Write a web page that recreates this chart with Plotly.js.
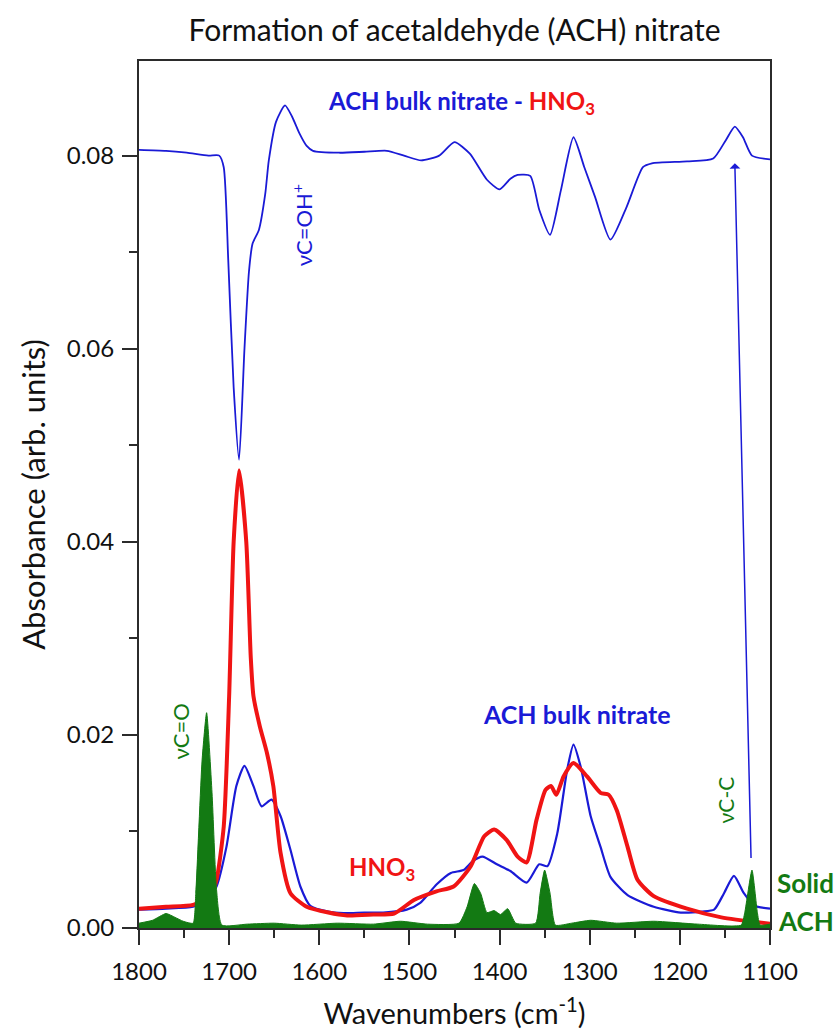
<!DOCTYPE html>
<html>
<head>
<meta charset="utf-8">
<script src="https://cdn.plot.ly/plotly-3.0.1.min.js"></script>
<style>html,body{margin:0;padding:0;background:#fff;}</style>
</head>
<body>
<div id="chart" style="width:840px;height:1035px;"></div>
<script>
// ACH bulk nitrate - HNO3 difference spectrum (top)
const wnDiff = [1800,1770,1747,1723,1711,1706,1701,1695,1689,1683,1678,1674,1667,1660,1656,1648,1638,1630,1622,1614,1607,1578,1550,1525,1506,1487,1467,1450,1433,1414,1400,1388,1380,1366,1356,1344,1332,1318,1306,1294,1277,1259,1241,1231,1192,1163,1149,1139,1130,1120,1100];
const absDiff = [0.0806,0.0805,0.0803,0.0800,0.0800,0.0788,0.0692,0.0560,0.0485,0.0600,0.0680,0.0709,0.0723,0.0760,0.0795,0.0835,0.0852,0.0840,0.0823,0.0810,0.0805,0.0803,0.0804,0.0805,0.0800,0.0795,0.0800,0.0814,0.0802,0.0775,0.0765,0.0776,0.0780,0.0779,0.0744,0.0718,0.0764,0.0819,0.0788,0.0757,0.0713,0.0747,0.0788,0.0792,0.0794,0.0797,0.0816,0.0830,0.0819,0.0800,0.0796];

// ACH bulk nitrate (blue, bottom)
const wnBulk = [1800,1770,1740,1725,1714,1703,1692,1683,1673,1664,1653,1643,1632,1621,1610,1590,1573,1550,1529,1503,1488,1470,1454,1440,1430,1419,1403,1388,1370,1356,1347,1336,1325,1318,1310,1299,1288,1277,1258,1229,1199,1175,1162,1151,1140,1129,1117,1100];
const absBulk = [0.0019,0.0020,0.0022,0.0028,0.0043,0.0084,0.0147,0.0168,0.0147,0.0126,0.0133,0.0116,0.0081,0.0043,0.0023,0.0017,0.00155,0.0016,0.0016,0.0019,0.0026,0.0045,0.0057,0.0060,0.0069,0.0074,0.0066,0.0059,0.0047,0.0066,0.0064,0.0098,0.0164,0.0190,0.0167,0.0116,0.0084,0.0053,0.0034,0.0022,0.0016,0.0017,0.0019,0.0036,0.0054,0.0036,0.0023,0.0020];

// HNO3 (red)
const wnHNO3 = [1800,1770,1740,1721,1714,1706,1700,1695,1689,1681,1676,1673,1666,1658,1651,1643,1632,1614,1590,1569,1540,1517,1495,1470,1451,1432,1417,1406,1392,1380,1370,1359,1349,1343,1337,1329,1318,1303,1288,1279,1270,1258,1247,1229,1192,1154,1100];
const absHNO3 = [0.0020,0.0022,0.0024,0.0033,0.0050,0.0105,0.0240,0.0400,0.0474,0.0400,0.0280,0.0240,0.0209,0.0181,0.0147,0.0078,0.0036,0.0022,0.0016,0.0013,0.0014,0.0015,0.0029,0.0038,0.0043,0.0064,0.0095,0.0102,0.0091,0.0074,0.0068,0.0112,0.0143,0.0147,0.0138,0.0157,0.0171,0.0157,0.0140,0.0138,0.0122,0.0084,0.0050,0.0033,0.0020,0.0011,0.00045];

// Solid ACH (green, filled)
const wnSolid = [1800,1785,1770,1760,1751,1740,1737,1730,1725,1719,1714,1708,1680,1650,1620,1580,1540,1510,1480,1445,1436,1428,1421,1414,1406,1399,1391,1382,1360,1355,1350,1344,1338,1320,1299,1270,1229,1180,1132,1128,1120,1114,1111,1100];
const absSolid = [0.0005,0.0008,0.0015,0.0011,0.0007,0.0005,0.0036,0.0174,0.0223,0.0140,0.0040,0.0003,0.0004,0.0005,0.0003,0.0005,0.0004,0.0007,0.0004,0.0005,0.0022,0.0046,0.0036,0.0016,0.0018,0.0014,0.0020,0.0005,0.0005,0.0036,0.0060,0.0036,0.0003,0.0005,0.0008,0.0005,0.0007,0.0004,0.0003,0.0016,0.0060,0.0016,0.0003,0.0004];

const xTickVals = [1800,1700,1600,1500,1400,1300,1200,1100];
const yTickVals = [0.00,0.02,0.04,0.06,0.08];

const BLUE = '#1a1ad6';
const RED = '#f01414';
const GREEN = '#137a13';
const AX = '#2b2b2b';
const FONT = 'Lato, "Open Sans", sans-serif';

const traces = [
  {x: wnBulk, y: absBulk, mode:'lines', line:{color:BLUE, width:2.2, shape:'spline', smoothing:0.6}, hoverinfo:'skip'},
  {x: wnHNO3, y: absHNO3, mode:'lines', line:{color:RED, width:4, shape:'spline', smoothing:0.6}, hoverinfo:'skip'},
  {x: wnSolid, y: absSolid, mode:'lines', fill:'tozeroy', fillcolor:GREEN, line:{color:GREEN, width:1, shape:'spline', smoothing:0.5}, hoverinfo:'skip'},
  {x: wnDiff, y: absDiff, mode:'lines', line:{color:BLUE, width:1.8, shape:'spline', smoothing:0.6}, hoverinfo:'skip'}
];

const layout = {
  width: 840, height: 1035,
  margin: {l:139, r:70, t:61, b:107},
  paper_bgcolor:'#fff', plot_bgcolor:'#fff',
  showlegend:false,
  font:{family:FONT, color:'#111'},
  title:{text:'Formation of acetaldehyde (ACH) nitrate', font:{size:30, family:FONT, color:'#111'}, x:0.5, xref:'paper', xanchor:'center', y:1-30/1035, yref:'container', yanchor:'middle'},
  xaxis:{
    range:[1800,1100], autorange:false,
    tickvals:xTickVals, ticktext:xTickVals.map(String),
    ticks:'outside', ticklen:15, tickwidth:2, tickcolor:AX,
    minor:{dtick:50, tick0:1100, ticks:'outside', ticklen:8, tickwidth:2, tickcolor:AX, showgrid:false},
    showline:true, linewidth:2, linecolor:AX, mirror:true,
    showgrid:false, zeroline:false,
    tickfont:{size:24, family:FONT, color:'#111'},
    ticklabelstandoff:6,
    title:{text:'Wavenumbers (cm<sup>-1</sup>)', font:{size:29, family:FONT, color:'#111'}, standoff:20}
  },
  yaxis:{
    range:[0,0.0898], autorange:false,
    tickvals:yTickVals, ticktext:yTickVals.map(v=>v.toFixed(2)),
    ticks:'outside', ticklen:15, tickwidth:2, tickcolor:AX,
    minor:{dtick:0.01, tick0:0, ticks:'outside', ticklen:8, tickwidth:2, tickcolor:AX, showgrid:false},
    showline:true, linewidth:2, linecolor:AX, mirror:true,
    showgrid:false, zeroline:false,
    tickfont:{size:24, family:FONT, color:'#111'},
    ticklabelstandoff:3,
    title:{text:'Absorbance (arb. units)', font:{size:31, family:FONT, color:'#111'}, standoff:12}
  },
  annotations:[
    {x:1139, y:0.0792, ax:1121, ay:0.0071, xref:'x', yref:'y', axref:'x', ayref:'y', text:'', showarrow:true, arrowhead:1, arrowsize:1.2, arrowwidth:1.5, arrowcolor:BLUE},
    {x:1442, y:0.0855, xref:'x', yref:'y', xanchor:'center', text:'<b>ACH bulk nitrate - <span style="color:'+RED+'">HNO<sub>3</sub></span></b>', showarrow:false, font:{size:24, color:BLUE, family:FONT}},
    {x:1619, y:0.0728, xref:'x', yref:'y', xanchor:'center', text:'νC=OH<sup>+</sup>', textangle:-90, showarrow:false, font:{size:22, color:BLUE, family:FONT}},
    {x:1314, y:0.0222, xref:'x', yref:'y', xanchor:'center', text:'<b>ACH bulk nitrate</b>', showarrow:false, font:{size:25, color:BLUE, family:FONT}},
    {x:1530, y:0.0062, xref:'x', yref:'y', xanchor:'center', text:'<b>HNO<sub>3</sub></b>', showarrow:false, font:{size:24, color:RED, family:FONT}},
    {x:1754, y:0.0204, xref:'x', yref:'y', xanchor:'center', text:'νC=O', textangle:-90, showarrow:false, font:{size:22, color:GREEN, family:FONT}},
    {x:1149, y:0.0133, xref:'x', yref:'y', xanchor:'center', text:'νC-C', textangle:-90, showarrow:false, font:{size:21, color:GREEN, family:FONT}},
    {x:1.057, y:0.0047, xref:'paper', yref:'y', xanchor:'center', text:'<b>Solid</b>', showarrow:false, font:{size:26, color:GREEN, family:FONT}},
    {x:1.057, y:0.0007, xref:'paper', yref:'y', xanchor:'center', text:'<b>ACH</b>', showarrow:false, font:{size:26, color:GREEN, family:FONT}}
  ]
};

Plotly.newPlot('chart', traces, layout, {staticPlot:true, displayModeBar:false});
</script>
</body>
</html>
